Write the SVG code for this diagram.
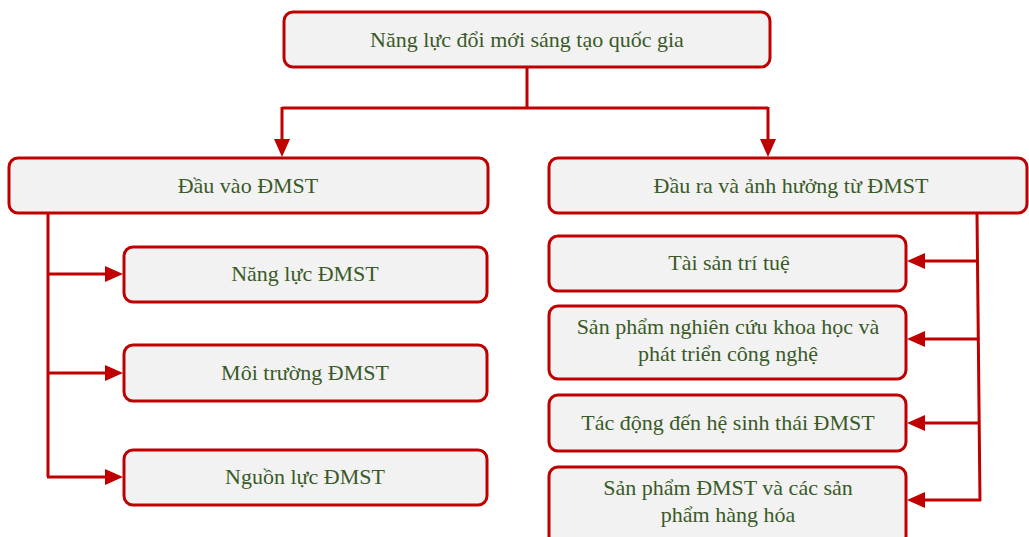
<svg xmlns="http://www.w3.org/2000/svg" width="1029" height="537" viewBox="0 0 1029 537">
  <style>
    .box { fill: #F2F2F2; stroke: #C00000; stroke-width: 3; }
    .lbl { font-family: "Liberation Serif", "Times New Roman", serif; font-size: 22px; fill: #3A5A28; text-anchor: middle; }
    .conn { fill: none; stroke: #C00000; stroke-width: 3; }
  </style>
  <defs>
    <marker id="arr" markerUnits="userSpaceOnUse" markerWidth="18" markerHeight="16" refX="8" refY="8" orient="auto">
      <path d="M0,0 L18,8 L0,16 Z" fill="#C00000"/>
    </marker>
  </defs>
  <rect width="1029" height="537" fill="#FFFFFF"/>

  <g id="connectors">
    <path class="conn" d="M527,67 L527,108"/>
    <path class="conn" d="M282,108 L768,108"/>
    <path class="conn" d="M282,107 L282,147" marker-end="url(#arr)"/>
    <path class="conn" d="M768,107 L768,147" marker-end="url(#arr)"/>
    <path class="conn" d="M48,213 L48,477"/>
    <path class="conn" d="M47,274 L113,274" marker-end="url(#arr)"/>
    <path class="conn" d="M47,373 L113,373" marker-end="url(#arr)"/>
    <path class="conn" d="M47,477 L113,477" marker-end="url(#arr)"/>
    <path class="conn" d="M977,213 L980,501"/>
    <path class="conn" d="M977,261 L917,261" marker-end="url(#arr)"/>
    <path class="conn" d="M978,339 L917,339" marker-end="url(#arr)"/>
    <path class="conn" d="M979,423 L917,423" marker-end="url(#arr)"/>
    <path class="conn" d="M981,500 L917,500" marker-end="url(#arr)"/>
  </g>

  <g id="node-root">
    <rect class="box" x="284" y="12" width="486" height="55" rx="9"/>
    <text class="lbl" x="527" y="47">Năng lực đổi mới sáng tạo quốc gia</text>
  </g>
  <g id="node-input">
    <rect class="box" x="9" y="158" width="479" height="55" rx="9"/>
    <text class="lbl" x="248" y="193">Đầu vào ĐMST</text>
  </g>
  <g id="node-output">
    <rect class="box" x="549" y="158" width="478" height="55" rx="9"/>
    <text class="lbl" x="791" y="193">Đầu ra và ảnh hưởng từ ĐMST</text>
  </g>
  <g id="node-nangluc">
    <rect class="box" x="124" y="247" width="363" height="55" rx="9"/>
    <text class="lbl" x="305" y="281">Năng lực ĐMST</text>
  </g>
  <g id="node-moitruong">
    <rect class="box" x="124" y="345" width="363" height="56" rx="9"/>
    <text class="lbl" x="305" y="380">Môi trường ĐMST</text>
  </g>
  <g id="node-nguonluc">
    <rect class="box" x="124" y="450" width="363" height="55" rx="9"/>
    <text class="lbl" x="305" y="484">Nguồn lực ĐMST</text>
  </g>
  <g id="node-taisan">
    <rect class="box" x="549" y="236" width="357" height="55" rx="9"/>
    <text class="lbl" x="729" y="270">Tài sản trí tuệ</text>
  </g>
  <g id="node-sanpham-nc">
    <rect class="box" x="549" y="306" width="357" height="73" rx="9"/>
    <text class="lbl" x="728" y="334">Sản phẩm nghiên cứu khoa học và</text>
    <text class="lbl" x="728" y="361">phát triển công nghệ</text>
  </g>
  <g id="node-tacdong">
    <rect class="box" x="549" y="395" width="357" height="56" rx="9"/>
    <text class="lbl" x="728" y="430">Tác động đến hệ sinh thái ĐMST</text>
  </g>
  <g id="node-sanpham-dmst">
    <rect class="box" x="549" y="467" width="357" height="78" rx="9"/>
    <text class="lbl" x="728" y="495">Sản phẩm ĐMST và các sản</text>
    <text class="lbl" x="728" y="522">phẩm hàng hóa</text>
  </g>
</svg>
